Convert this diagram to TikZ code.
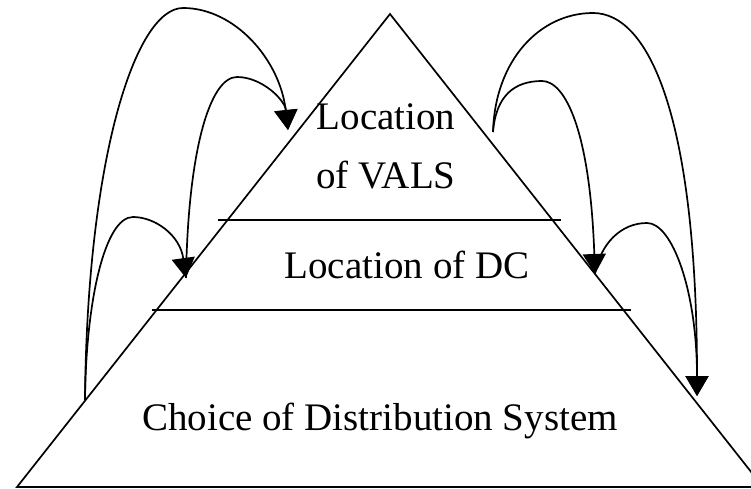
\documentclass[tikz,border=0pt]{standalone}
\usepackage{fontspec}
\setmainfont{Liberation Serif}
\usetikzlibrary{arrows.meta}
\begin{document}
\begin{tikzpicture}[x=1pt,y=-1pt,
  edge/.style={line width=1.7pt, line join=miter},
  tier/.style={line width=1.8pt},
  link/.style={line width=1.7pt, -{Triangle[length=20pt,width=23pt]}},
  label/.style={font=\fontsize{39}{47}\selectfont, anchor=base, inner sep=0pt}]
\useasboundingbox (0,0) rectangle (751,489);
\clip (0,0) rectangle (751,489);

% pyramid outline
\coordinate (apex) at (390,14);
\coordinate (bl) at (17,487);
\coordinate (br) at (763,487);
\draw[edge] (bl) -- (apex) -- (br) -- cycle;

% tier separators
\coordinate (t1l) at (218,220);
\coordinate (t1r) at (561,220);
\coordinate (t2l) at (152,310);
\coordinate (t2r) at (631,310);
\draw[tier] (t1l) -- (t1r);
\draw[tier] (t2l) -- (t2r);

% tier labels
\node[label] (vals1) at (386,130) {Location};
\node[label] (vals2) at (386,188) {of VALS};
\node[label] (dc) at (407,278) {Location of DC};
\node[label] (sys) at (380,430) {Choice of Distribution System};

% attachment points on the sides
\coordinate (lbot) at (85,400);
\coordinate (ldc) at (186,278);
\coordinate (lvals) at (288,130);
\coordinate (rvals) at (493,132);
\coordinate (rdc) at (595,274);
\coordinate (rbot) at (697,396);

% tops of the arcs
\coordinate (pk1) at (183,8);
\coordinate (pk2) at (237,77);
\coordinate (pk3) at (133,217);
\coordinate (pk4) at (593,13);
\coordinate (pk5) at (542,81);
\coordinate (pk6) at (647,223);

% bottom-up influences on the left
\draw[link] (lbot) .. controls (87,160) and (135,8) .. (pk1)
                   .. controls (235,8) and (280,60) .. (lvals);
\draw[link] (ldc) .. controls (188,150) and (210,77) .. (pk2)
                  .. controls (262,77) and (285,100) .. (lvals);
\draw[link] (lbot) .. controls (86,300) and (105,217) .. (pk3)
                   .. controls (155,217) and (180,235) .. (ldc);

% top-down influences on the right
\draw[link] (rvals) .. controls (495,60) and (540,13) .. (pk4)
                    .. controls (650,13) and (697,120) .. (rbot);
\draw[link] (rvals) .. controls (496,95) and (515,81) .. (pk5)
                    .. controls (565,81) and (590,130) .. (rdc);
\draw[link] (rdc) .. controls (600,245) and (620,223) .. (pk6)
                  .. controls (672,223) and (697,290) .. (rbot);
\end{tikzpicture}
\end{document}
